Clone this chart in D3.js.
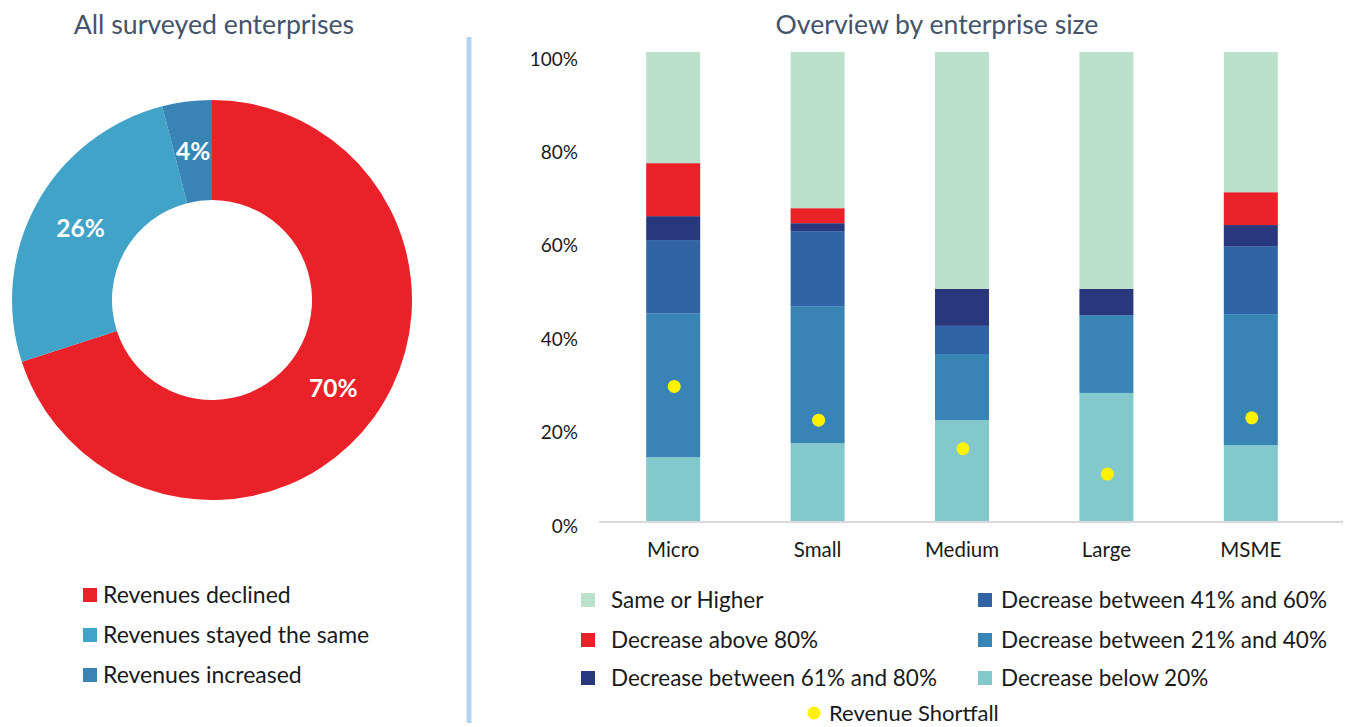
<!DOCTYPE html>
<html>
<head>
<meta charset="utf-8">
<script src="https://cdn.jsdelivr.net/npm/d3@7"></script>
<style>
  html, body { margin: 0; padding: 0; background: #ffffff; }
  svg { display: block; font-family: Lato, "Open Sans", sans-serif; }
</style>
</head>
<body>
<svg id="chart" width="1354" height="727"></svg>
<script>
// Donut: revenue change across all surveyed enterprises
const donutLabels = ["Revenues declined", "Revenues stayed the same", "Revenues increased"];
const donutValues = [70, 26, 4];
const donutColors = ["#EA2128", "#41A3C8", "#3884B5"];

// Stacked bars: revenue change by enterprise size (share of enterprises, %)
const sizes = ["Micro", "Small", "Medium", "Large", "MSME"];
const seriesNames = [
  "Decrease below 20%",
  "Decrease between 21% and 40%",
  "Decrease between 41% and 60%",
  "Decrease between 61% and 80%",
  "Decrease above 80%",
  "Same or Higher"
];
const below20   = [13.6, 16.6, 21.5, 27.3, 16.2];
const dec21to40 = [30.7, 29.2, 14.1, 16.6, 27.9];
const dec41to60 = [15.6, 16.0, 6.0, 0.0, 14.5];
const dec61to80 = [5.1, 1.7, 7.9, 5.6, 4.5];
const above80   = [11.3, 3.2, 0.0, 0.0, 7.0];
const sameOrHigher = [23.7, 33.3, 50.5, 50.5, 29.9];
const seriesColors = ["#83C9CB", "#3884B5", "#3164A5", "#29387D", "#EA2128", "#BBE1CC"];

// Average revenue shortfall per size class (%)
const shortfall = [28.7, 21.5, 15.4, 10.0, 22.0];

const yTicks = [0, 20, 40, 60, 80, 100];

const svg = d3.select("#chart");
const titleColor = "#44546A";

// ---------- Left panel: donut ----------
const left = svg.append("g");
left.append("text")
  .attr("x", 214).attr("y", 34)
  .attr("text-anchor", "middle")
  .attr("font-size", 26.7)
  .attr("fill", titleColor)
  .text("All surveyed enterprises");

const outerR = 200, innerR = 100;
const pie = d3.pie().sort(null).value(d => d)(donutValues);
const arc = d3.arc().innerRadius(innerR).outerRadius(outerR);
const donut = left.append("g").attr("transform", "translate(212,300)");
donut.selectAll("path")
  .data(pie)
  .join("path")
  .attr("d", arc)
  .attr("fill", (d, i) => donutColors[i]);
donut.selectAll("text")
  .data(pie)
  .join("text")
  .attr("transform", d => `translate(${arc.centroid(d)})`)
  .attr("text-anchor", "middle")
  .attr("dy", "0.36em")
  .attr("font-size", 24.5)
  .attr("font-weight", "bold")
  .attr("fill", "#ffffff")
  .text(d => d.data + "%");

const leftLegend = left.append("g");
donutLabels.forEach((lab, i) => {
  const row = leftLegend.append("g").attr("transform", `translate(83,${595 + i * 40})`);
  row.append("rect").attr("x", 0).attr("y", -7).attr("width", 14).attr("height", 14)
    .attr("fill", donutColors[i]);
  row.append("text").attr("x", 20).attr("y", 0).attr("dy", "0.35em")
    .attr("font-size", 23).attr("fill", "#1a1a1a").text(lab);
});

// Divider
svg.append("line")
  .attr("x1", 469).attr("x2", 469).attr("y1", 37).attr("y2", 723)
  .attr("stroke", "#B4D3F0").attr("stroke-width", 5);

// ---------- Right panel: stacked bars ----------
const right = svg.append("g");
right.append("text")
  .attr("x", 937).attr("y", 34)
  .attr("text-anchor", "middle")
  .attr("font-size", 26.6)
  .attr("fill", titleColor)
  .text("Overview by enterprise size");

const x = d3.scaleBand().domain(sizes).range([601, 1323]).paddingInner(0.626).paddingOuter(0.313);
const y = d3.scaleLinear().domain([0, 100]).range([521, 52]);

const rows = sizes.map((s, i) => ({
  size: s,
  [seriesNames[0]]: below20[i],
  [seriesNames[1]]: dec21to40[i],
  [seriesNames[2]]: dec41to60[i],
  [seriesNames[3]]: dec61to80[i],
  [seriesNames[4]]: above80[i],
  [seriesNames[5]]: sameOrHigher[i]
}));
const stacked = d3.stack().keys(seriesNames)(rows);

right.selectAll("g.layer")
  .data(stacked)
  .join("g")
  .attr("class", "layer")
  .attr("fill", (d, i) => seriesColors[i])
  .selectAll("rect")
  .data(d => d)
  .join("rect")
  .attr("x", d => x(d.data.size))
  .attr("width", x.bandwidth())
  .attr("y", d => y(d[1]))
  .attr("height", d => Math.max(0, y(d[0]) - y(d[1])));

// Baseline
right.append("line")
  .attr("x1", 599).attr("x2", 1343)
  .attr("y1", y(0) + 1).attr("y2", y(0) + 1)
  .attr("stroke", "#D9D9D9").attr("stroke-width", 2);

// Y tick labels
right.selectAll("text.ytick")
  .data(yTicks)
  .join("text")
  .attr("class", "ytick")
  .attr("x", 578)
  .attr("y", d => y(d) + 5 + (d / 100) * 2)
  .attr("dy", "0.35em")
  .attr("text-anchor", "end")
  .attr("font-size", 19)
  .attr("fill", "#1a1a1a")
  .text(d => d + "%");

// Category labels
right.selectAll("text.xcat")
  .data(sizes)
  .join("text")
  .attr("class", "xcat")
  .attr("x", d => x(d) + x.bandwidth() / 2)
  .attr("y", 550)
  .attr("dy", "0.35em")
  .attr("text-anchor", "middle")
  .attr("font-size", 20.5)
  .attr("fill", "#1a1a1a")
  .text(d => d);

// Revenue shortfall markers
right.selectAll("circle.shortfall")
  .data(sizes)
  .join("circle")
  .attr("class", "shortfall")
  .attr("cx", d => x(d) + x.bandwidth() / 2 + 1)
  .attr("cy", (d, i) => y(shortfall[i]))
  .attr("r", 6.5)
  .attr("fill", "#FFF200");

// Right legend: two columns of series, then the marker entry
const legendOrder = [
  { name: "Same or Higher", col: 0, row: 0 },
  { name: "Decrease above 80%", col: 0, row: 1 },
  { name: "Decrease between 61% and 80%", col: 0, row: 2 },
  { name: "Decrease between 41% and 60%", col: 1, row: 0 },
  { name: "Decrease between 21% and 40%", col: 1, row: 1 },
  { name: "Decrease below 20%", col: 1, row: 2 }
];
const colX = [581, 978];
const colTextGap = [30, 23];
const rowY = [600, 640, 678];
const rightLegend = right.append("g");
legendOrder.forEach(item => {
  const idx = seriesNames.indexOf(item.name);
  const g = rightLegend.append("g")
    .attr("transform", `translate(${colX[item.col]},${rowY[item.row]})`);
  g.append("rect").attr("x", 0).attr("y", -7).attr("width", 14).attr("height", 14)
    .attr("fill", seriesColors[idx]);
  g.append("text").attr("x", colTextGap[item.col]).attr("y", 0).attr("dy", "0.35em")
    .attr("font-size", 22.5).attr("fill", "#1a1a1a").text(item.name);
});
const markerItem = rightLegend.append("g").attr("transform", "translate(814,713)");
markerItem.append("circle").attr("cx", 0).attr("cy", 0).attr("r", 6.5).attr("fill", "#FFF200");
markerItem.append("text").attr("x", 15).attr("y", 0).attr("dy", "0.35em")
  .attr("font-size", 22).attr("fill", "#1a1a1a").text("Revenue Shortfall");
</script>
</body>
</html>
